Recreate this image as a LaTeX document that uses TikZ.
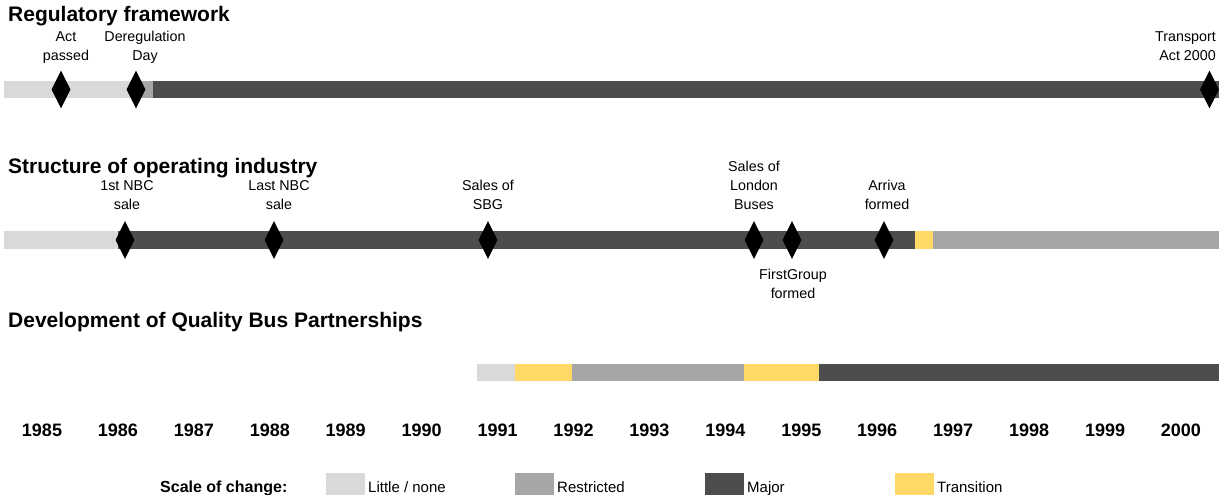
\documentclass[tikz,border=0pt]{standalone}
\usepackage{fontspec}
\setmainfont{Liberation Sans}
\usepackage{tikz}
\usetikzlibrary{shapes.geometric}
\definecolor{ScaleColorNone}{RGB}{217,217,217}
\definecolor{ScaleColorRestricted}{RGB}{166,166,166}
\definecolor{ScaleColorMajor}{RGB}{77,77,77}
\definecolor{ScaleColorTransition}{RGB}{255,217,102}

\begin{document}
\begin{tikzpicture}[x=1pt,y=-1pt,
  evt/.style={diamond,fill=black,draw=none,inner sep=0pt,minimum width=19pt,minimum height=38pt},
  lbl/.style={align=center,inner sep=0pt,text depth=0pt,anchor=south,font=\fontsize{14.3}{19}\selectfont},
  ttl/.style={anchor=base west,inner sep=0pt,font=\fontsize{21}{25}\selectfont\bfseries},
  yr/.style={anchor=base,inner sep=0pt,font=\fontsize{18}{22}\selectfont\bfseries},
  key/.style={anchor=base west,inner sep=0pt,font=\fontsize{15}{18}\selectfont}]
\useasboundingbox (0,0) rectangle (1219,495);
% section headings
\node[ttl] (regttl) at (8,22) {Regulatory framework};
\node[ttl] (indttl) at (8,173) {Structure of operating industry};
\node[ttl] (qbpttl) at (8,327) {Development of Quality Bus Partnerships};
% bars, one segment per stage
\foreach \a/\b/\c in %
{4/137/None,137/153/Restricted,153/1219/Major} {
   \fill[ScaleColor\c] (\a,81) rectangle (\b,98);
}
\foreach \a/\b/\c in %
{4/118/None,118/915/Major,915/933/Transition,933/1219/Restricted} {
   \fill[ScaleColor\c] (\a,231) rectangle (\b,249);
}
\foreach \a/\b/\c in %
{477/515/None,515/572/Transition,572/744/Restricted,744/819/Transition,819/1219/Major} {
   \fill[ScaleColor\c] (\a,364) rectangle (\b,381);
}
% milestones
\foreach \x/\n in %
{61/act,136/dereg,1209.5/ta} {
   \node[evt] (\n) at (\x,89.5) {};
}
\foreach \x/\n in %
{125/nbcfirst,274/nbclast,488/sbg,754/lbl,792/first,884/arriva} {
   \node[evt] (\n) at (\x,240) {};
}
\node[lbl] (act-t) at (66,61) {Act\\passed};
\node[lbl] (dereg-t) at (145,61) {Deregulation\\Day};
\node[lbl,anchor=south east,align=right] (ta-t) at (1216,61) {Transport\\Act 2000};
\node[lbl] (nbcfirst-t) at (127,210) {1st NBC\\sale};
\node[lbl] (nbclast-t) at (279,210) {Last NBC\\sale};
\node[lbl] (sbg-t) at (488,210) {Sales of\\SBG};
\node[lbl] (lbl-t) at (754,210) {Sales of\\London\\Buses};
\node[lbl] (arriva-t) at (887,210) {Arriva\\formed};
\node[lbl] (first-t) at (793,299) {FirstGroup\\formed};
% years
\foreach \y [count=\i from 0] in {1985,...,2000} {
   \node[yr] (yr\y) at ({42+75.93*\i},436) {\y};
}
% key
\node[key,font=\fontsize{16}{18}\selectfont\bfseries] (keyttl) at (160,492) {Scale of change:};
\foreach \x/\c/\t in %
{326/None/{Little / none},515/Restricted/Restricted,705/Major/Major,895/Transition/Transition} {
   \fill[ScaleColor\c] (\x,473) rectangle (\x+39,495);
   \node[key] (key\c) at (\x+42,492) {\t};
}
\end{tikzpicture}
\end{document}
